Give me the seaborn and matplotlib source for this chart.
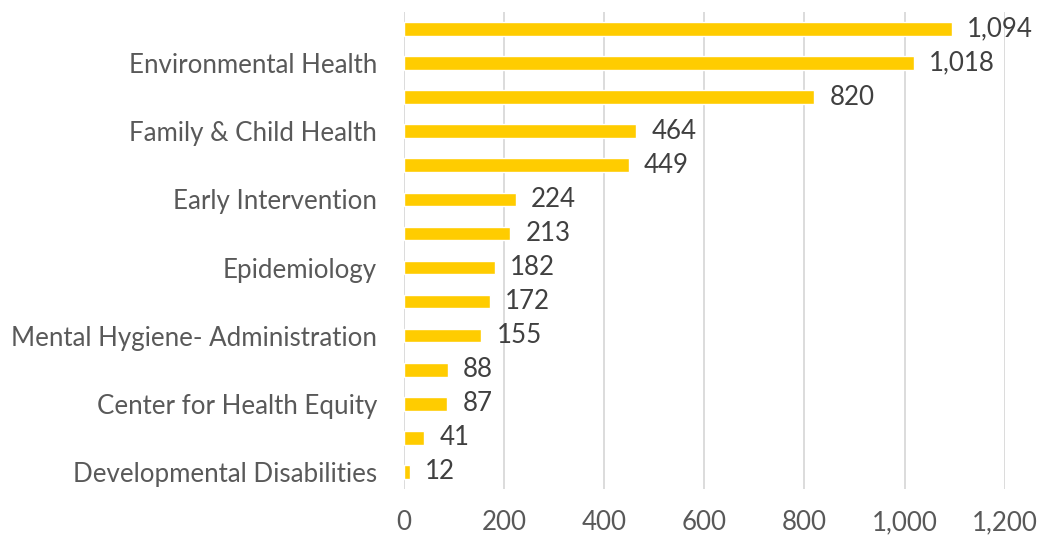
import matplotlib
matplotlib.use("Agg")
import matplotlib.pyplot as plt
from matplotlib.ticker import FuncFormatter
import pandas as pd
import seaborn as sns

# Data (top to bottom); Excel only shows every other label
categories = ["", "Environmental Health", " ", "Family & Child Health", "  ",
              "Early Intervention", "   ", "Epidemiology", "    ",
              "Mental Hygiene- Administration", "     ", "Center for Health Equity",
              "      ", "Developmental Disabilities"]
values = [1094, 1018, 820, 464, 449, 224, 213, 182, 172, 155, 88, 87, 41, 12]
x_ticks = [0, 200, 400, 600, 800, 1000, 1200]

df = pd.DataFrame({"category": categories, "value": values})

sns.set_style("white")
plt.rcParams["font.family"] = ["Lato", "DejaVu Sans"]

TEXT = "#595959"
BAR = "#FFCC00"
FS = 18.6

fig = plt.figure(figsize=(10.5, 5.37), dpi=100)
ax = fig.add_axes([0.3843, 0.0894, 0.5728, 0.8883])

sns.barplot(data=df, y="category", x="value", orient="h", color=BAR,
            width=0.4, saturation=1, ax=ax)

ax.set_xlim(0, 1200)
ax.set_ylim(len(values) - 0.5, -0.5)
ax.set_xticks(x_ticks)
ax.xaxis.set_major_formatter(FuncFormatter(lambda v, p: f"{int(v):,}"))
ax.xaxis.grid(True, color="#D9D9D9", linewidth=1.3)
ax.set_axisbelow(True)
for s in ax.spines.values():
    s.set_visible(False)

ax.tick_params(axis="x", length=0, pad=15, labelsize=FS, labelcolor=TEXT)
ax.tick_params(axis="y", length=0, pad=19, labelsize=FS, labelcolor=TEXT)
ax.set_xlabel("")
ax.set_ylabel("")

for i, v in enumerate(values):
    ax.annotate(f"{v:,}", xy=(v, i), xytext=(11, 0), textcoords="offset points",
                ha="left", va="center", fontsize=FS, color="#404040")

fig.savefig("out.png", dpi=100)
